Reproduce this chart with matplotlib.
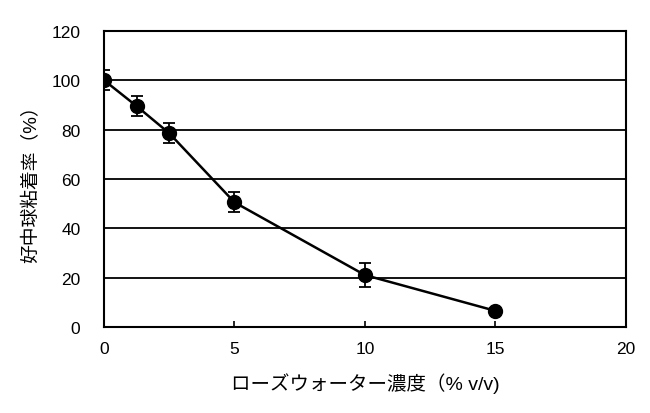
import matplotlib
matplotlib.use('Agg')
import matplotlib.pyplot as plt

plt.rcParams['font.family'] = ['Liberation Sans', 'Noto Sans CJK JP', 'DejaVu Sans']

concentration = [0, 1.25, 2.5, 5, 10, 15]
adhesion = [100, 89.5, 78.5, 50.5, 21, 6.5]
error = [4, 4, 4, 4, 5, 1]
x_ticks = [0, 5, 10, 15, 20]
y_ticks = [0, 20, 40, 60, 80, 100, 120]

fig = plt.figure(figsize=(6.5, 4.14), dpi=100)
ax = fig.add_axes([0.16, 0.208, 0.803, 0.715])

for y in y_ticks[1:-1]:
    ax.axhline(y, color='black', linewidth=1.3, zorder=1)

ax.errorbar(concentration, adhesion, yerr=error, color='black', marker='o',
            markersize=10, linewidth=1.8, capsize=4, elinewidth=1.3,
            capthick=1.3, zorder=3)

ax.set_xlim(0, 20)
ax.set_ylim(0, 120)
ax.set_xticks(x_ticks)
ax.set_yticks(y_ticks)
ax.tick_params(axis='x', direction='in', length=4, width=1.2, labelsize=12.5, pad=10)
ax.tick_params(axis='y', length=0, labelsize=12.5, pad=17)
for s in ax.spines.values():
    s.set_linewidth(1.5)

ax.set_xlabel('ローズウォーター濃度（% v/v)', fontsize=14, labelpad=12)
ax.set_ylabel('好中球粘着率（%）', fontsize=13.5, labelpad=8)

fig.savefig('out.png', dpi=100)
